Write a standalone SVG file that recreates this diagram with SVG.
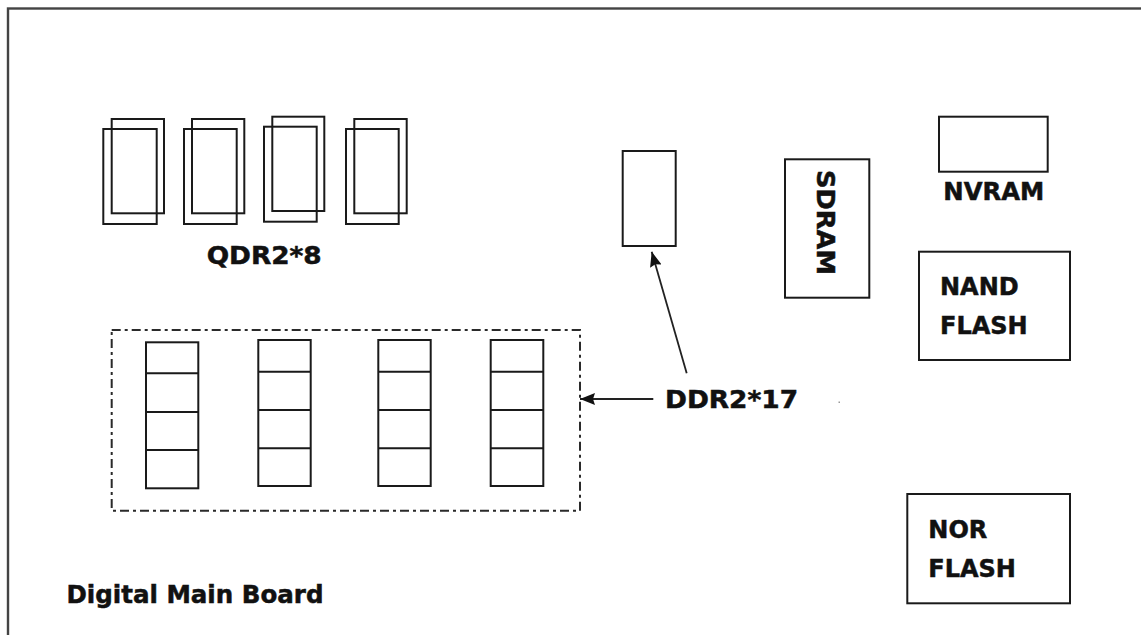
<svg xmlns="http://www.w3.org/2000/svg" width="1141" height="635" viewBox="0 0 1141 635">
<defs>
<style>
.box{fill:none;stroke:#1a1a1a;stroke-width:2}
.lbl{font-family:"DejaVu Sans","Verdana",sans-serif;font-weight:bold;font-size:24px;fill:#111;stroke:#111;stroke-width:0.5}
.conn{stroke:#222;stroke-width:1.8;fill:none}
</style>
<marker id="ah" viewBox="0 0 15 12" refX="15" refY="6" markerWidth="15" markerHeight="12" markerUnits="userSpaceOnUse" orient="auto">
<path d="M0,0 L15,6 L0,12 L2,6 Z" fill="#111"/>
</marker>
</defs>
<rect width="1141" height="635" fill="#fff"/>
<rect id="board" x="8" y="8.5" width="1200" height="700" fill="none" stroke="#444" stroke-width="2.4"/>
<text class="lbl" x="66.5" y="603" textLength="257" lengthAdjust="spacingAndGlyphs">Digital Main Board</text>

<g id="qdr2">
<rect class="box" x="111.7" y="119" width="52.3" height="94.3"/>
<rect class="box" x="103.3" y="129" width="53.4" height="95"/>
<rect class="box" x="192" y="119" width="52.3" height="94.3"/>
<rect class="box" x="184" y="129" width="52.7" height="95"/>
<rect class="box" x="272.3" y="116.7" width="52" height="94.3"/>
<rect class="box" x="264" y="126.7" width="52.7" height="95"/>
<rect class="box" x="354.3" y="119" width="52.4" height="94.3"/>
<rect class="box" x="346" y="129" width="52.7" height="95"/>
<text class="lbl" x="206.7" y="264" textLength="115" lengthAdjust="spacingAndGlyphs">QDR2*8</text>
</g>

<g id="ddr2-group">
<rect x="111.7" y="330" width="468.3" height="180.7" fill="none" stroke="#2a2a2a" stroke-width="2" stroke-dasharray="9 4 3 4"/>
<rect class="box" x="146" y="342.3" width="52.3" height="146"/>
<path class="box" d="M146,373.3H198.3M146,412H198.3M146,450H198.3"/>
<rect class="box" x="258.3" y="340" width="52.4" height="146"/>
<path class="box" d="M258.3,371.7H310.7M258.3,410H310.7M258.3,448.3H310.7"/>
<rect class="box" x="378.3" y="340" width="52.4" height="146"/>
<path class="box" d="M378.3,371.7H430.7M378.3,410H430.7M378.3,448.3H430.7"/>
<rect class="box" x="490.7" y="340" width="52.6" height="146"/>
<path class="box" d="M490.7,371.7H543.3M490.7,410H543.3M490.7,448.3H543.3"/>
</g>

<g id="ddr2-single">
<rect class="box" x="622.7" y="151" width="53" height="95"/>
</g>

<g id="ddr2-label">
<text class="lbl" x="665" y="408.3" textLength="133" lengthAdjust="spacingAndGlyphs">DDR2*17</text>
</g>

<g id="sdram">
<rect class="box" x="785" y="159.3" width="84.3" height="138.4"/>
<text class="lbl" transform="translate(816.5,170) rotate(90)" x="0" y="0" textLength="105" lengthAdjust="spacingAndGlyphs">SDRAM</text>
</g>

<g id="nvram">
<rect class="box" x="939" y="116.7" width="108.7" height="55"/>
<text class="lbl" x="943.3" y="200" textLength="101" lengthAdjust="spacingAndGlyphs">NVRAM</text>
</g>

<g id="nand">
<rect class="box" x="919" y="251.7" width="151" height="108.3"/>
<text class="lbl" x="940" y="295">NAND</text>
<text class="lbl" x="940" y="334.3">FLASH</text>
</g>

<g id="nor">
<rect class="box" x="907.3" y="494" width="162.7" height="109.3"/>
<text class="lbl" x="928.3" y="537.7">NOR</text>
<text class="lbl" x="928.3" y="577.3">FLASH</text>
</g>

<g id="connectors">
<line class="conn" x1="653.3" y1="399" x2="580" y2="399" marker-end="url(#ah)"/>
<line class="conn" x1="686.7" y1="373.3" x2="651.7" y2="251.7" marker-end="url(#ah)"/>
</g>
<rect x="838.5" y="401.5" width="1.5" height="1.5" fill="#999"/>
</svg>
